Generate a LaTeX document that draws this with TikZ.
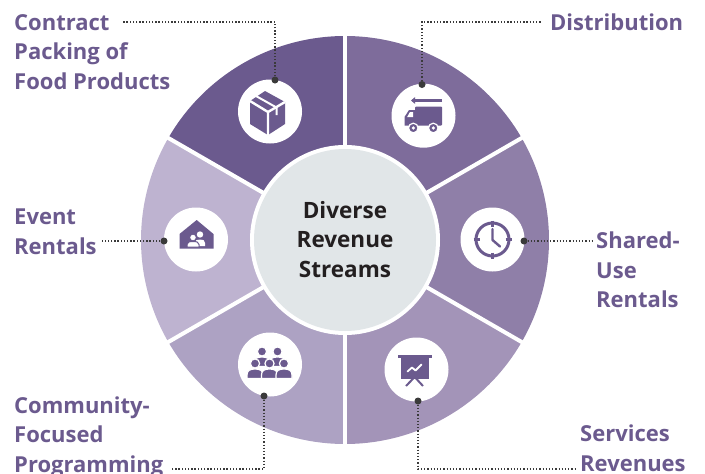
\documentclass[tikz,border=0pt]{standalone}
\usepackage{fontspec}
\setmainfont{Open Sans}
\usetikzlibrary{arrows.meta}
\definecolor{lab}{RGB}{107,90,142}
\definecolor{sA}{RGB}{107,90,142}
\definecolor{sB}{RGB}{126,108,155}
\definecolor{sC}{RGB}{143,127,168}
\definecolor{sD}{RGB}{163,148,184}
\definecolor{sE}{RGB}{173,162,195}
\definecolor{sF}{RGB}{190,179,208}
\definecolor{ctr}{RGB}{225,230,232}
\definecolor{ink}{RGB}{35,31,32}
\definecolor{lnk}{RGB}{58,58,58}
\definecolor{ico}{RGB}{107,90,142}
\begin{document}
\begin{tikzpicture}[x=1pt,y=-1pt,
  lbl/.style={font=\fontsize{22}{29.5}\selectfont\bfseries, text=lab, align=left, anchor=base west, inner sep=0pt},
  ctxt/.style={font=\fontsize{22.5}{29.5}\selectfont\bfseries, text=ink, align=center, anchor=base, inner sep=0pt},
  iconbg/.style={circle, fill=white, minimum size=64pt, inner sep=0pt},
  pin/.style={circle, fill=lnk, minimum size=7pt, inner sep=0pt},
  conn/.style={draw=lnk, line width=1.3pt, dash pattern=on 1.3pt off 1.9pt},
  person/.pic={
    \fill[ico, draw=white, line width=1.2pt] (-8,15) -- (-8,11.5) .. controls (-8,7) and (-5,5.5) .. (0,5.5) .. controls (5,5.5) and (8,7) .. (8,11.5) -- (8,15) -- cycle;
    \fill[ico, draw=white, line width=1.2pt] (0,0) circle (4.6);
  }
]
\useasboundingbox (0,0) rectangle (705,474);
% donut sectors
\begin{scope}[shift={(345,240)}, yscale=-1]
  \fill[sA] (0,0) -- (90:204) arc[start angle=90, end angle=150, radius=204] -- cycle;
  \fill[sB] (0,0) -- (30:204) arc[start angle=30, end angle=90, radius=204] -- cycle;
  \fill[sC] (0,0) -- (-30:204) arc[start angle=-30, end angle=30, radius=204] -- cycle;
  \fill[sD] (0,0) -- (-90:204) arc[start angle=-90, end angle=-30, radius=204] -- cycle;
  \fill[sE] (0,0) -- (-150:204) arc[start angle=-150, end angle=-90, radius=204] -- cycle;
  \fill[sF] (0,0) -- (150:204) arc[start angle=150, end angle=210, radius=204] -- cycle;
  \foreach \a in {90,30,-30,-90,-150,150} \draw[white, line width=4pt] (0,0) -- (\a:210);
\end{scope}
\node[circle, fill=white, minimum size=190pt, inner sep=0pt] (ring) at (345,240) {};
\node[circle, fill=ctr, minimum size=182pt, inner sep=0pt] (hub) at (345,240) {};
\node[ctxt] (title) at (345,277) {Diverse\\Revenue\\Streams};
% icon discs
\node[iconbg] (i1) at (270,111.5) {};
\node[iconbg] (i2) at (423.5,115.7) {};
\node[iconbg] (i3) at (492.5,239.5) {};
\node[iconbg] (i4) at (416.5,369.5) {};
\node[iconbg] (i5) at (270,364.5) {};
\node[iconbg] (i6) at (196,239.5) {};
% box icon
\fill[ico] (265,91) -- (285,102) -- (285,124) -- (268,135) -- (250,124) -- (250,101) -- cycle;
\draw[white, line width=2.4pt, line join=round] (250,101) -- (268,112) -- (285,102) (268,112) -- (268,135);
\draw[white, line width=2pt] (256,96) -- (276.5,107.5) -- (276.5,115);
% truck icon
\draw[ico, line width=2.2pt, -{Triangle[length=4pt,width=6.5pt]}] (442,100.5) -- (411,100.5);
\fill[ico, rounded corners=1pt] (415,106.5) rectangle (442,125.5);
\fill[ico] (416,110) -- (409,110) -- (404.5,117) -- (404.5,125.5) -- (416,125.5) -- cycle;
\fill[white] (409.8,112.2) -- (413,112.2) -- (413,117) -- (407.2,117) -- cycle;
\filldraw[fill=ico, draw=white, line width=1.2pt] (413.3,128) circle (4.8);
\fill[white] (413.3,128) circle (1.8);
\filldraw[fill=ico, draw=white, line width=1.2pt] (433.3,128) circle (4.8);
\fill[white] (433.3,128) circle (1.8);
% clock icon
\draw[ico, line width=3pt] (492.5,239.5) circle (16.5);
\draw[ico, line width=2.2pt] (492.5,220.5) -- (492.5,226.5) (492.5,252.5) -- (492.5,258.5) (473.5,239.5) -- (479.5,239.5) (505.5,239.5) -- (511.5,239.5);
\draw[ico, line width=2.4pt, line cap=round, line join=round] (492.5,229) -- (492.5,240) -- (500,246.5);
% presentation icon
\fill[ico] (398,354.5) rectangle (432,358);
\fill[ico] (401,358) rectangle (428.5,378.5);
\draw[white, line width=1.8pt, line cap=round, line join=round] (407.5,371.5) -- (412,367.5) -- (415.5,370.5) -- (421.5,364.5);
\draw[ico, line width=2pt] (414.7,377) -- (406,386) (414.7,377) -- (423,386);
% people icon
\pic at (262,351.5) {person};
\pic at (277.5,351.5) {person};
\pic at (255,363.5) {person};
\pic at (269.5,363.5) {person};
\pic at (284,363.5) {person};
% house icon
\fill[ico] (196.7,220) -- (213.5,234) -- (213.5,248.5) -- (179.5,248.5) -- (179.5,234) -- cycle;
\fill[white] (200,234.5) circle (3.2);
\fill[white] (195,246) -- (195,243) .. controls (195,240) and (197,239.5) .. (200,239.5) .. controls (203,239.5) and (205,240) .. (205,243) -- (205,246) -- cycle;
\filldraw[fill=white, draw=ico, line width=1pt] (187,247) -- (187,244.5) .. controls (187,242) and (189.5,241.5) .. (193,241.5) .. controls (196.5,241.5) and (199,242) .. (199,244.5) -- (199,247) -- cycle;
\filldraw[fill=white, draw=ico, line width=1pt] (193,237.5) circle (3.4);
% pins
\node[pin] (d1) at (275,80) {};
\node[pin] (d2) at (422,84.5) {};
\node[pin] (d3) at (524,241) {};
\node[pin] (d4) at (418,401) {};
\node[pin] (d5) at (264,396) {};
\node[pin] (d6) at (164,241) {};
% connector ends
\coordinate (e1) at (122,22);
\coordinate (e2) at (541,22);
\coordinate (e3) at (592,241);
\coordinate (e4) at (575,469);
\coordinate (e5) at (172,469);
\coordinate (e6) at (102,241);
\draw[conn] (d1) |- (e1);
\draw[conn] (d2) |- (e2);
\draw[conn] (d3) -- (e3);
\draw[conn] (d4) |- (e4);
\draw[conn] (d5) |- (e5);
\draw[conn] (d6) -- (e6);
% labels
\node[lbl] (l1) at (14,89) {Contract\\Packing of\\Food Products};
\node[lbl] (l2) at (550,30) {Distribution};
\node[lbl] (l3) at (596,307.5) {Shared-\\Use\\Rentals};
\node[lbl] (l4) at (580,471) {Services\\Revenues};
\node[lbl] (l5) at (14,472) {Community-\\Focused\\Programming};
\node[lbl] (l6) at (14,254) {Event\\Rentals};
\end{tikzpicture}
\end{document}
